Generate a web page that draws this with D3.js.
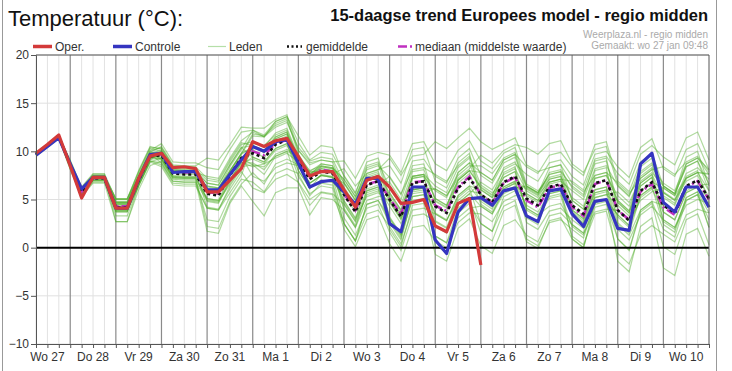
<!DOCTYPE html>
<html><head><meta charset="utf-8">
<script src="https://cdn.jsdelivr.net/npm/d3@7"></script>
<style>
html,body{margin:0;padding:0;background:#fff;}
svg{display:block;font-family:"Liberation Sans",Arial,sans-serif;}
</style></head><body>
<svg id="chart" width="732" height="371"></svg>
<script>
// ---- data ----
const dayLabels = ["Wo 27","Do 28","Vr 29","Za 30","Zo 31","Ma 1","Di 2","Wo 3","Do 4","Vr 5","Za 6","Zo 7","Ma 8","Di 9","Wo 10"];
const yTicks = [-10,-5,0,5,10,15,20];
const startHour = 6, stepHours = 6, endHour = 360;

const oper = [9.8,10.7,11.7,8.5,5.15,7.3,7.3,4.1,4.1,7.2,9.5,9.8,8.3,8.4,8.2,5.8,5.8,7.0,8.2,11.0,10.5,11.1,11.35,9.45,7.45,7.9,7.9,6.0,4.2,7.0,7.4,6.3,4.6,4.7,5.0,2.25,1.65,4.6,5.1,-1.8];
const controle = [9.6,10.5,11.4,8.7,6.1,7.3,7.3,4.1,4.1,7.1,9.65,9.8,7.8,7.9,7.9,6.0,6.0,7.6,9.1,10.5,10.0,11.0,11.2,8.75,6.3,6.85,7.0,5.8,4.5,7.2,7.2,2.5,1.65,6.3,6.3,0.8,-0.6,3.7,5.1,5.2,4.4,5.9,6.2,3.3,2.7,5.9,6.1,3.5,2.2,4.8,5.0,2.0,1.8,8.7,9.8,4.7,3.7,6.3,6.3,4.2];
const gemiddelde = [9.7,10.6,11.5,8.6,5.8,7.2,7.2,4.2,4.2,7.0,9.5,9.6,7.7,7.6,7.6,5.6,5.4,7.5,9.3,9.8,9.3,10.7,11.2,8.9,7.1,7.9,7.7,5.5,3.7,6.5,6.9,5.0,3.2,6.7,6.9,4.3,3.6,6.2,7.2,5.5,4.7,6.8,7.4,5.1,4.4,6.3,6.6,4.4,3.5,6.7,7.0,3.9,2.8,5.9,6.8,4.4,3.6,6.4,7.0,5.1];
const mediaan = [9.7,10.6,11.5,8.6,5.8,7.2,7.2,4.3,4.3,7.0,9.5,9.7,7.9,7.8,7.8,5.8,5.6,7.6,9.2,10.0,9.6,10.8,11.2,9.0,7.3,8.1,7.9,5.6,3.9,6.6,6.9,5.1,3.5,6.8,6.9,4.4,3.8,6.3,7.4,5.5,4.6,6.7,7.3,4.9,4.2,6.2,6.5,4.2,3.3,6.6,7.0,3.9,2.9,5.8,6.6,4.2,3.4,6.3,6.9,5.0];

const lid01 = [9.9,10.8,11.7,8.9,6.1,7.5,7.5,4.5,4.5,7.3,9.8,10.1,8.2,8.1,8.1,7.0,6.8,8.9,10.7,11.0,10.5,11.9,12.4,9.5,7.7,8.5,8.3,7.1,5.3,8.1,8.5,7.3,5.5,9.0,9.2,7.4,6.7,9.3,10.3,7.5,6.7,8.8,9.4,6.4,5.7,7.6,7.9,4.9,4.0,7.2,7.5,5.4,4.3,7.4,8.3,6.7,5.9,8.7,9.3,7.6];
const lid02 = [9.5,10.4,11.3,8.1,5.3,6.7,6.7,2.7,2.7,6.0,8.5,9.0,7.1,7.0,7.0,2.9,2.7,5.3,7.1,6.8,5.8,7.7,8.2,7.7,5.4,6.7,6.5,2.5,0.7,4.5,4.9,2.6,0.8,5.3,5.5,1.2,0.5,4.1,5.1,1.5,0.7,3.8,4.4,0.6,-0.1,2.8,3.1,0.9,0.0,4.2,4.5,0.9,-0.2,3.9,4.8,1.9,1.1,4.9,5.5,2.9];
const lid03 = [9.8,10.7,11.6,8.8,6.0,7.4,7.4,4.8,4.8,7.6,10.1,10.8,8.9,8.8,8.8,8.3,8.1,10.2,12.0,12.2,11.7,13.1,13.6,10.9,9.1,9.9,9.7,7.5,5.7,8.5,8.9,6.2,4.4,7.9,8.1,5.1,4.4,7.0,8.0,7.8,7.0,9.1,9.7,8.4,7.7,9.6,9.9,8.4,7.5,10.7,11.0,6.9,5.8,8.9,9.8,6.4,5.6,8.4,9.0,6.6];
const lid04 = [9.6,10.5,11.4,8.4,5.6,7.0,7.0,3.3,3.3,6.5,9.0,8.6,6.7,6.6,6.6,4.1,3.9,6.4,8.2,10.2,9.3,11.1,11.6,9.7,7.5,8.7,8.5,4.1,2.3,5.9,6.3,1.9,0.1,4.4,4.6,-0.7,-1.4,2.0,3.0,0.2,-0.6,2.3,2.9,1.3,0.6,3.3,3.6,2.4,1.5,5.5,5.8,0.9,-0.3,3.7,4.6,0.1,-0.7,2.9,3.5,0.3];
const lid05 = [9.7,10.6,11.5,8.7,5.9,7.3,7.3,4.6,4.6,7.1,9.6,9.4,7.5,7.4,7.4,6.4,6.2,8.0,9.8,11.8,11.6,12.7,13.2,10.1,8.6,9.1,8.9,9.0,7.2,9.5,9.9,9.6,7.8,10.8,11.0,8.7,8.0,10.1,11.1,9.0,8.2,9.8,10.4,6.6,5.9,7.3,7.6,4.2,3.3,6.0,6.3,2.4,1.3,3.9,4.8,4.4,3.6,5.9,6.5,6.6];
const lid06 = [9.8,10.7,11.6,8.5,5.7,7.1,7.1,3.8,3.8,6.6,9.1,9.8,7.9,7.8,7.8,4.2,4.0,6.1,7.9,6.2,5.7,7.1,7.6,6.8,5.0,5.8,5.6,4.5,2.7,5.5,5.9,5.7,3.9,7.4,7.6,6.4,5.7,8.3,9.3,6.0,5.2,7.3,7.9,3.9,3.2,5.1,5.4,1.2,0.3,3.5,3.8,-0.6,-1.7,1.4,2.3,1.4,0.6,3.4,4.0,3.6];
const lid07 = [9.6,10.5,11.4,8.8,6.0,7.4,7.4,5.0,5.0,7.8,10.3,10.0,8.1,8.0,8.0,6.0,5.8,7.9,9.7,10.4,9.9,11.3,11.8,8.5,6.7,7.5,7.3,3.1,1.3,4.1,4.5,1.6,-0.3,3.3,3.5,2.7,2.0,4.6,5.6,6.8,6.0,8.1,8.7,7.6,6.9,8.8,9.1,7.4,6.5,9.7,10.0,8.4,7.3,10.4,11.3,8.2,7.4,10.2,10.8,8.1];
const lid08 = [9.7,10.6,11.5,8.6,5.8,7.2,7.2,3.8,3.8,6.8,9.3,9.6,7.7,7.6,7.6,6.3,6.1,8.4,10.2,12.2,11.5,13.1,13.6,11.6,9.6,10.6,10.4,7.4,5.6,8.9,9.3,5.2,3.4,7.4,7.6,2.2,1.5,4.6,5.6,4.3,3.5,6.1,6.7,6.1,5.4,7.8,8.1,6.2,5.3,9.0,9.3,3.9,2.8,6.4,7.3,2.7,1.9,5.2,5.8,2.1];
const lid09 = [9.7,10.6,11.5,8.3,5.5,6.9,6.9,4.7,4.7,6.7,9.2,9.9,8.0,7.9,7.9,6.0,5.8,7.1,8.9,8.4,8.7,9.3,9.8,8.9,7.9,7.9,7.7,8.2,6.4,7.7,8.1,9.3,7.5,9.5,9.7,11.0,10.3,11.4,12.4,11.0,10.2,10.8,11.4,8.6,7.9,8.3,8.6,6.7,5.8,7.5,7.8,6.7,5.6,7.2,8.1,8.4,7.6,8.9,9.5,7.9];
const lid10 = [9.8,10.7,11.6,9.0,6.2,7.6,7.6,3.7,3.7,7.2,9.7,9.2,7.3,7.2,7.2,2.2,2.0,4.8,6.6,7.8,6.6,8.7,9.2,8.6,6.1,7.6,7.4,4.6,2.8,7.1,7.5,3.0,1.2,6.2,6.4,0.2,-0.5,3.6,4.6,2.5,1.7,5.3,5.9,3.1,2.4,5.8,6.1,0.9,0.0,4.7,5.0,-1.4,-2.5,2.2,3.1,-2.1,-2.9,1.4,2.0,-0.9];
const lid11 = [9.6,10.5,11.4,8.7,5.9,7.3,7.3,4.7,4.7,7.5,10.0,10.4,8.5,8.4,8.4,7.2,7.0,9.1,10.9,10.6,10.1,11.5,12.0,8.0,6.2,7.0,6.8,2.5,0.7,3.5,3.9,2.2,0.4,3.9,4.1,3.5,2.8,5.4,6.4,6.0,5.2,7.3,7.9,4.1,3.4,5.3,5.6,2.2,1.3,4.5,4.8,3.4,2.3,5.4,6.3,5.7,4.9,7.7,8.3,7.1];
const lid12 = [9.8,10.7,11.6,8.4,5.6,7.0,7.0,4.0,4.0,6.4,8.9,9.3,7.4,7.3,7.3,6.4,6.2,7.9,9.7,11.6,11.5,12.5,13.0,10.4,9.0,9.4,9.2,6.7,4.9,6.9,7.3,4.7,2.9,5.6,5.8,6.1,5.4,7.2,8.2,9.6,8.8,10.1,10.7,10.4,9.7,10.8,11.1,8.7,7.8,10.2,10.5,6.5,5.4,7.7,8.6,5.7,4.9,6.9,7.5,5.2];
const lid13 = [9.7,10.6,11.5,8.8,6.0,7.4,7.4,5.1,5.1,7.4,9.9,10.5,8.6,8.5,8.5,9.3,9.1,10.7,12.5,12.4,12.4,13.3,13.8,10.1,8.8,9.1,8.9,6.1,4.3,6.1,6.5,7.4,5.6,8.1,8.3,7.6,6.9,8.5,9.5,6.5,5.7,6.8,7.4,4.1,3.4,4.3,4.6,2.4,1.5,3.7,4.0,3.9,2.8,4.9,5.8,6.2,5.4,7.2,7.8,7.6];
const lid14 = [9.6,10.5,11.4,8.5,5.7,7.1,7.1,4.4,4.4,7.2,9.7,8.8,6.9,6.8,6.8,4.9,4.7,6.8,8.6,9.4,8.9,10.3,10.8,7.4,5.6,6.4,6.2,1.9,0.1,2.9,3.3,0.4,-1.4,2.1,2.3,0.7,0.0,2.6,3.6,3.5,2.7,4.8,5.4,5.4,4.7,6.6,6.9,5.9,5.0,8.2,8.5,6.4,5.3,8.4,9.3,5.4,4.6,7.4,8.0,4.6];
const lid15 = [9.8,10.7,11.6,9.1,6.3,7.7,7.7,5.0,5.0,8.0,10.5,10.2,8.3,8.2,8.2,4.8,4.6,7.0,8.8,8.8,8.1,9.7,10.2,9.4,7.3,8.4,8.2,6.8,5.0,8.3,8.7,5.0,3.2,7.2,7.4,2.8,2.1,5.2,6.2,2.5,1.7,4.3,4.9,0.9,0.2,2.6,2.9,1.9,1.0,4.7,5.0,3.4,2.3,5.9,6.8,6.2,5.4,8.7,9.3,8.1];
const lid16 = [9.6,10.5,11.4,8.2,5.4,6.8,6.8,4.0,4.0,6.8,9.3,9.9,8.0,7.9,7.9,6.7,6.5,8.6,10.4,9.4,8.9,10.3,10.8,8.0,6.2,7.0,6.8,5.5,3.7,6.5,6.9,6.8,5.0,8.5,8.7,4.8,4.1,6.7,7.7,4.5,3.7,5.8,6.4,5.6,4.9,6.8,7.1,6.9,6.0,9.2,9.5,7.7,6.6,9.7,10.6,9.4,8.6,11.4,12.0,9.1];
const lid17 = [9.7,10.6,11.5,8.7,5.9,7.3,7.3,3.9,3.9,6.4,8.9,8.4,6.5,6.4,6.4,4.1,3.9,5.7,7.5,10.8,10.6,11.7,12.2,9.2,7.7,8.2,8.0,4.8,3.0,5.3,5.7,4.8,3.0,6.0,6.2,6.1,5.4,7.5,8.5,8.5,7.7,9.3,9.9,6.4,5.7,7.1,7.4,3.9,3.0,5.7,6.0,1.9,0.8,3.4,4.3,2.9,2.1,4.4,5.0,4.6];
const lid18 = [9.7,10.6,11.5,8.6,5.8,7.2,7.2,4.6,4.6,7.4,9.9,9.8,7.9,7.8,7.8,7.4,7.2,9.3,11.1,12.0,11.5,12.9,13.4,9.7,7.9,8.7,8.5,6.3,4.5,7.3,7.7,3.2,1.4,4.9,5.1,1.2,0.5,3.1,4.1,4.3,3.5,5.6,6.2,6.4,5.7,7.6,7.9,6.4,5.5,8.7,9.0,4.7,3.6,6.7,7.6,3.7,2.9,5.7,6.3,5.1];
const lid19 = [9.8,10.7,11.6,8.4,5.6,7.0,7.0,3.7,3.7,7.0,9.5,9.1,7.2,7.1,7.1,5.1,4.9,7.5,9.3,8.6,7.6,9.5,10.0,6.7,4.4,5.7,5.5,2.5,0.7,4.5,4.9,3.1,1.3,5.8,6.0,4.9,4.2,7.8,8.8,5.5,4.7,7.8,8.4,3.4,2.7,5.6,5.9,3.9,3.0,7.2,7.5,4.9,3.8,7.9,8.8,6.4,5.6,9.4,10.0,6.4];
const lid20 = [9.6,10.5,11.4,8.9,6.1,7.5,7.5,5.1,5.1,7.9,10.4,10.3,8.4,8.3,8.3,5.8,5.6,7.7,9.5,7.4,6.9,8.3,8.8,8.5,6.7,7.5,7.3,6.7,4.9,7.7,8.1,8.5,6.7,10.2,10.4,6.9,6.2,8.8,9.8,5.0,4.2,6.3,6.9,2.6,1.9,3.8,4.1,2.9,2.0,5.2,5.5,4.4,3.3,6.4,7.3,2.9,2.1,4.9,5.5,2.1];
const lid21 = [9.8,10.7,11.6,8.8,6.0,7.4,7.4,4.5,4.5,7.3,9.8,9.9,8.0,7.9,7.9,6.1,5.9,8.0,9.8,10.4,9.9,11.3,11.8,9.4,7.6,8.4,8.2,6.1,4.3,7.1,7.5,5.7,3.9,7.4,7.6,5.1,4.4,7.0,8.0,6.3,5.5,7.6,8.2,5.9,5.2,7.1,7.4,5.2,4.3,7.5,7.8,4.7,3.6,6.7,7.6,5.2,4.4,7.2,7.8,5.9];
const lid22 = [9.6,10.5,11.4,8.4,5.6,7.0,7.0,3.9,3.9,6.7,9.2,9.3,7.4,7.3,7.3,5.1,4.9,7.0,8.8,9.2,8.7,10.1,10.6,8.5,6.7,7.5,7.3,4.9,3.1,5.9,6.3,4.3,2.5,6.0,6.2,3.5,2.8,5.4,6.4,4.8,4.0,6.1,6.7,4.4,3.7,5.6,5.9,3.7,2.8,6.0,6.3,3.2,2.1,5.2,6.1,3.7,2.9,5.7,6.3,4.4];
const lid23 = [9.7,10.6,11.5,8.7,5.9,7.3,7.3,4.0,4.0,6.8,9.3,10.0,8.1,8.0,8.0,6.7,6.5,8.6,10.4,10.6,10.1,11.5,12.0,9.2,7.4,8.2,8.0,3.9,2.1,5.7,6.1,2.8,1.0,5.3,5.5,4.3,3.6,7.0,8.0,6.2,5.4,8.3,8.9,6.3,5.6,8.3,8.6,4.9,4.0,8.0,8.3,2.6,1.5,5.4,6.3,2.4,1.6,5.2,5.8,3.6];
const lid24 = [9.7,10.6,11.5,8.5,5.7,7.1,7.1,4.7,4.7,7.2,9.7,9.2,7.3,7.2,7.2,5.0,4.8,6.6,8.4,8.6,8.4,9.5,10.0,9.5,8.0,8.5,8.3,7.1,5.3,7.5,7.9,4.9,3.1,6.0,6.2,3.6,2.9,4.9,5.9,5.6,4.8,6.3,6.9,6.2,5.5,6.8,7.1,3.5,2.6,5.2,5.5,5.8,4.7,7.2,8.1,5.8,5.0,7.2,7.8,7.7];
const lid25 = [9.7,10.6,11.5,8.8,6.0,7.4,7.4,2.7,2.7,6.5,9.0,8.8,6.9,6.8,6.8,1.7,1.5,4.6,6.4,4.8,3.3,5.7,6.2,6.2,3.4,5.2,5.0,3.9,2.1,4.9,5.3,5.5,3.7,7.2,7.4,5.9,5.2,7.8,8.8,7.8,7.0,9.1,9.7,5.6,4.9,6.8,7.1,3.4,2.5,5.7,6.0,4.9,3.8,6.9,7.8,6.4,5.6,8.4,9.0,5.9];
const leden = [lid01,lid02,lid03,lid04,lid05,lid06,lid07,lid08,lid09,lid10,lid11,lid12,lid13,lid14,lid15,lid16,lid17,lid18,lid19,lid20,lid21,lid22,lid23,lid24,lid25];

// ---- layout ----
const L = 36, R = 709, T = 55, B = 344;
const svg = d3.select("#chart");
const x = d3.scaleLinear().domain([startHour, endHour]).range([L, R]);
const y = d3.scaleLinear().domain([-10, 20]).range([B, T]);
const hourOf = i => startHour + i * stepHours;

// frame
svg.append("line").attr("x1",2.5).attr("x2",2.5).attr("y1",0).attr("y2",371).attr("stroke","#999");
svg.append("line").attr("x1",716.5).attr("x2",716.5).attr("y1",0).attr("y2",371).attr("stroke","#999");

// titles
svg.append("text").attr("x",8).attr("y",26).attr("font-size",22).attr("fill","#111").text("Temperatuur (°C):");
svg.append("text").attr("x",708).attr("y",21).attr("text-anchor","end").attr("font-size",16.5).attr("font-weight","bold").attr("fill","#111").text("15-daagse trend Europees model - regio midden");
svg.append("text").attr("x",708).attr("y",38).attr("text-anchor","end").attr("font-size",10).attr("fill","#aaa").text("Weerplaza.nl - regio midden");
svg.append("text").attr("x",708).attr("y",49).attr("text-anchor","end").attr("font-size",10).attr("fill","#aaa").text("Gemaakt: wo 27 jan 09:48");

// legend
const legY = 46.5;
const leg = svg.append("g").attr("font-size",12).attr("fill","#333");
function legLine(x1,x2,col,w,dash){ const l = leg.append("line").attr("x1",x1).attr("x2",x2).attr("y1",legY).attr("y2",legY).attr("stroke",col).attr("stroke-width",w); if(dash) l.attr("stroke-dasharray",dash); }
legLine(33,52,"#d33a3a",3.5);
leg.append("text").attr("x",55).attr("y",legY+4).text("Oper.");
legLine(113,132,"#3535c0",3.5);
leg.append("text").attr("x",135).attr("y",legY+4).text("Controle");
legLine(208,226,"#b5dfa8",1.2);
leg.append("text").attr("x",229).attr("y",legY+4).text("Leden");
legLine(287,302,"#111",2.5,"2,2.5");
leg.append("text").attr("x",306).attr("y",legY+4).text("gemiddelde");
legLine(398,413,"#c030c0",2.5,"9,3,2,3");
leg.append("text").attr("x",415).attr("y",legY+4).text("mediaan (middelste waarde)");

// grid
const g = svg.append("g");
const hours = d3.range(startHour, endHour + 1, stepHours);
g.selectAll("line.vg").data(hours.filter(h => h % 24 !== 0)).join("line")
  .attr("x1", d => x(d)).attr("x2", d => x(d)).attr("y1", T).attr("y2", B)
  .attr("stroke", "#e2e2e2").attr("stroke-width", 1);
g.selectAll("line.hg").data(yTicks).join("line")
  .attr("x1", L).attr("x2", R).attr("y1", d => y(d)).attr("y2", d => y(d))
  .attr("stroke", "#e0e0e0").attr("stroke-width", 1);
g.selectAll("line.dg").data(hours.filter(h => h % 24 === 0 && h < endHour)).join("line")
  .attr("x1", d => x(d)).attr("x2", d => x(d)).attr("y1", T).attr("y2", B)
  .attr("stroke", "#8a8a8a").attr("stroke-width", 1.2);

// members
const line = d3.line().x((d, i) => x(hourOf(i))).y(d => y(d));
svg.append("g").selectAll("path").data(leden).join("path")
  .attr("d", line).attr("fill","none").attr("stroke","#4fae2a").attr("stroke-opacity",0.45).attr("stroke-width",1.2);

// zero line
svg.append("line").attr("x1",L).attr("x2",R).attr("y1",y(0)).attr("y2",y(0)).attr("stroke","#000").attr("stroke-width",2);

// main lines
svg.append("path").datum(mediaan).attr("d",line).attr("fill","none").attr("stroke","#c030c0").attr("stroke-width",2.5).attr("stroke-dasharray","9,3,2,3");
svg.append("path").datum(gemiddelde).attr("d",line).attr("fill","none").attr("stroke","#111").attr("stroke-width",2.6).attr("stroke-dasharray","3,3");
svg.append("path").datum(controle).attr("d",line).attr("fill","none").attr("stroke","#3535c0").attr("stroke-width",3.2).attr("stroke-linejoin","round");
svg.append("path").datum(oper).attr("d",line).attr("fill","none").attr("stroke","#d33a3a").attr("stroke-width",3.2).attr("stroke-linejoin","round");

// axes
const yAxis = d3.axisLeft(y).tickValues(yTicks).tickSize(5).tickPadding(2);
const ya = svg.append("g").attr("transform",`translate(${L},0)`).call(yAxis);
ya.select(".domain").attr("stroke","#555");
ya.selectAll(".tick line").attr("stroke","#555");
ya.selectAll("text").attr("font-size",12).attr("fill","#333").attr("font-family","Liberation Sans, Arial, sans-serif");

const xAxis = d3.axisBottom(x).tickValues(hours).tickSize(4).tickFormat("");
const xa = svg.append("g").attr("transform",`translate(0,${B})`).call(xAxis);
xa.select(".domain").attr("stroke","#555");
xa.selectAll(".tick line").attr("stroke","#555");

svg.append("line").attr("x1",L).attr("x2",R).attr("y1",T).attr("y2",T).attr("stroke","#555");
svg.append("line").attr("x1",R).attr("x2",R).attr("y1",T).attr("y2",B).attr("stroke","#555");

svg.append("g").selectAll("text").data(dayLabels).join("text")
  .attr("x", (d, i) => x(12 + 24 * i)).attr("y", 361).attr("text-anchor","middle")
  .attr("font-size",12).attr("fill","#333").text(d => d);
</script>
</body></html>
